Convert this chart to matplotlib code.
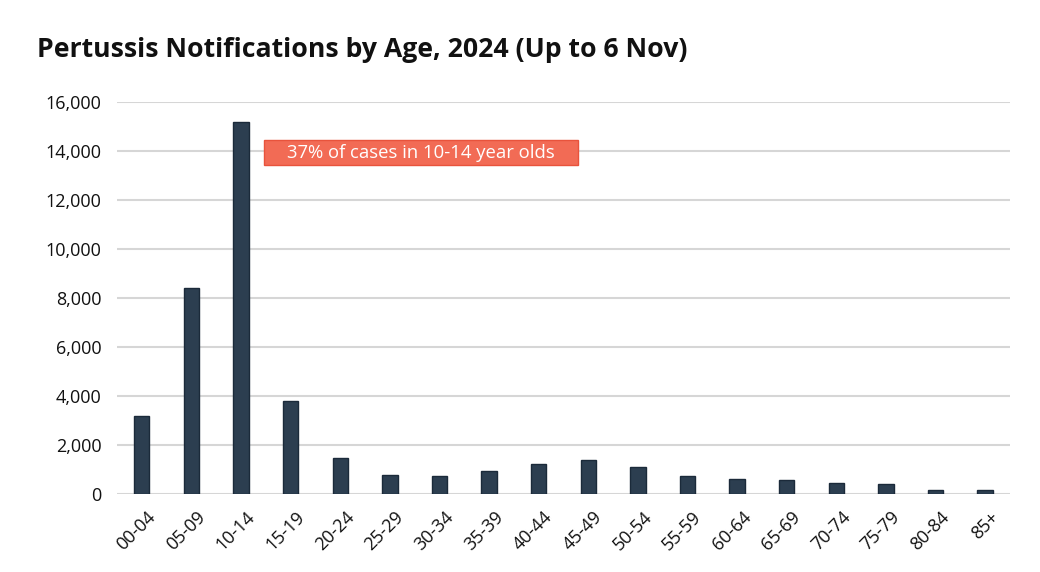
import matplotlib.pyplot as plt
import matplotlib.transforms as mtransforms
from matplotlib.patches import Rectangle
import numpy as np

# age groups and notification counts
age_groups = ["00-04", "05-09", "10-14", "15-19", "20-24", "25-29", "30-34",
              "35-39", "40-44", "45-49", "50-54", "55-59", "60-64", "65-69",
              "70-74", "75-79", "80-84", "85+"]
notifications = [3200, 8400, 15200, 3800, 1450, 760, 720, 920, 1210, 1370,
                 1090, 720, 600, 560, 440, 400, 150, 150]
y_ticks = [0, 2000, 4000, 6000, 8000, 10000, 12000, 14000, 16000]

plt.rcParams['font.family'] = ['Open Sans', 'DejaVu Sans']

fig = plt.figure(figsize=(10.4, 5.72), dpi=100)
ax = fig.add_axes([0.1125, 0.1364, 0.8585, 0.6853])

x = np.arange(len(age_groups))
ax.bar(x, notifications, width=0.31, color='#2c3e50', edgecolor='#1b2a3a',
       linewidth=1, zorder=3)

ax.set_xlim(-0.5, len(age_groups) - 0.5)
ax.set_ylim(0, 16000)
ax.set_yticks(y_ticks)
ax.set_yticklabels([f"{v:,}" for v in y_ticks])
ax.grid(axis='y', color='#d6d6d6', linewidth=1.5, zorder=0)
for s in ax.spines.values():
    s.set_visible(False)
ax.tick_params(axis='both', length=0, labelsize=13, colors='#111111')
ax.tick_params(axis='y', pad=11)
ax.tick_params(axis='x', pad=10)
ax.set_xticks(x)
ax.set_xticklabels(age_groups, rotation=45, ha='right', rotation_mode='anchor')
shift = mtransforms.ScaledTranslation(5 / 100, 0, fig.dpi_scale_trans)
for lab in ax.get_xticklabels():
    lab.set_transform(lab.get_transform() + shift)

# annotation box
ax.add_patch(Rectangle((2.46, 13430), 6.33, 1020, facecolor='#f26b55',
                       edgecolor='#e8533c', linewidth=1, zorder=4))
ax.text(5.63, 13900, "37% of cases in 10-14 year olds", color='white',
        fontsize=13.3, ha='center', va='center', zorder=5)

fig.text(0.036, 0.912, "Pertussis Notifications by Age, 2024 (Up to 6 Nov)",
         fontsize=19.2, fontweight='bold', color='#111111', va='center')

fig.savefig("out.png", dpi=100)
